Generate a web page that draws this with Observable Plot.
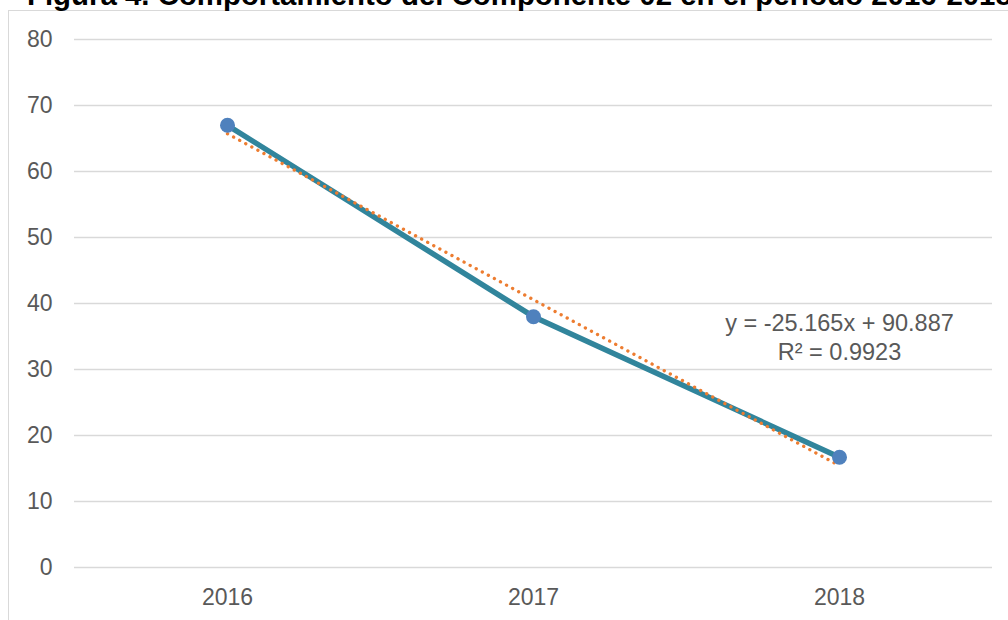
<!DOCTYPE html>
<html>
<head>
<meta charset="utf-8">
<script src="https://cdn.jsdelivr.net/npm/d3@7"></script>
<script src="https://cdn.jsdelivr.net/npm/@observablehq/plot@0.6"></script>
<style>
  html, body { margin: 0; padding: 0; background: #fff; overflow: hidden; }
  #wrap { position: relative; width: 1008px; height: 620px; overflow: hidden; font-family: Arial, "Liberation Sans", sans-serif; }
  #frame { position: absolute; left: 8px; top: 10px; width: 1100px; height: 700px; border: 1.5px solid #d9d9d9; box-sizing: border-box; }
  #title { position: absolute; left: 27px; top: -20.5px; font-size: 29.4px; line-height: 29.4px; font-weight: bold; color: #000; white-space: nowrap; }
  #chart { position: absolute; left: 0; top: 0; }
</style>
</head>
<body>
<div id="wrap">
  <div id="frame"></div>
  <div id="chart"></div>
  <div id="title">Figura 4. Comportamiento del Componente 02 en el periodo 2016-2018</div>
</div>
<script>
const years = [2016, 2017, 2018];
const values = [67, 38, 16.7];
const yTicks = [0, 10, 20, 30, 40, 50, 60, 70, 80];
const equationLines = ["y = -25.165x + 90.887", "R² = 0.9923"];
const labelAt = {year: 2018, value: 35};

const data = years.map((y, i) => ({year: y, value: values[i]}));
const labelData = [{year: labelAt.year, value: labelAt.value, text: equationLines.join("\n")}];

const chart = Plot.plot({
  width: 1008,
  height: 620,
  marginLeft: 74,
  marginRight: 16,
  marginTop: 39,
  marginBottom: 53,
  style: {fontFamily: 'Arial, "Liberation Sans", sans-serif', fontSize: "23px", color: "#595959", background: "transparent"},
  x: {type: "linear", domain: [2015.5, 2018.5], ticks: years, tickFormat: d => String(d), tickSize: 0, tickPadding: 21, label: null},
  y: {domain: [0, 80], ticks: yTicks, tickSize: 0, tickPadding: 22, label: null},
  marks: [
    Plot.gridY(yTicks, {stroke: "#d9d9d9", strokeOpacity: 1, strokeWidth: 1.4}),
    Plot.axisX({ticks: years, tickFormat: d => String(d), tickSize: 0, tickPadding: 21, fill: "#595959", fontSize: 23, label: null}),
    Plot.axisY({ticks: yTicks, tickSize: 0, tickPadding: 22, fill: "#595959", fontSize: 23, label: null}),
    Plot.line(data, {x: "year", y: "value", stroke: "#31859c", strokeWidth: 5.5, strokeLinejoin: "round"}),
    Plot.linearRegressionY(data, {x: "year", y: "value", ci: 0, stroke: "#ed7d31", strokeWidth: 3.3, strokeDasharray: "0.1 6.8", strokeLinecap: "round"}),
    Plot.dot(data, {x: "year", y: "value", r: 7.5, fill: "#4f81bd", stroke: "none"}),
    Plot.text(labelData, {x: "year", y: "value", text: "text", textAnchor: "middle", lineAnchor: "middle", lineHeight: 1.22, fontSize: 23.5, fill: "#595959"})
  ]
});
document.getElementById("chart").appendChild(chart);
</script>
</body>
</html>
